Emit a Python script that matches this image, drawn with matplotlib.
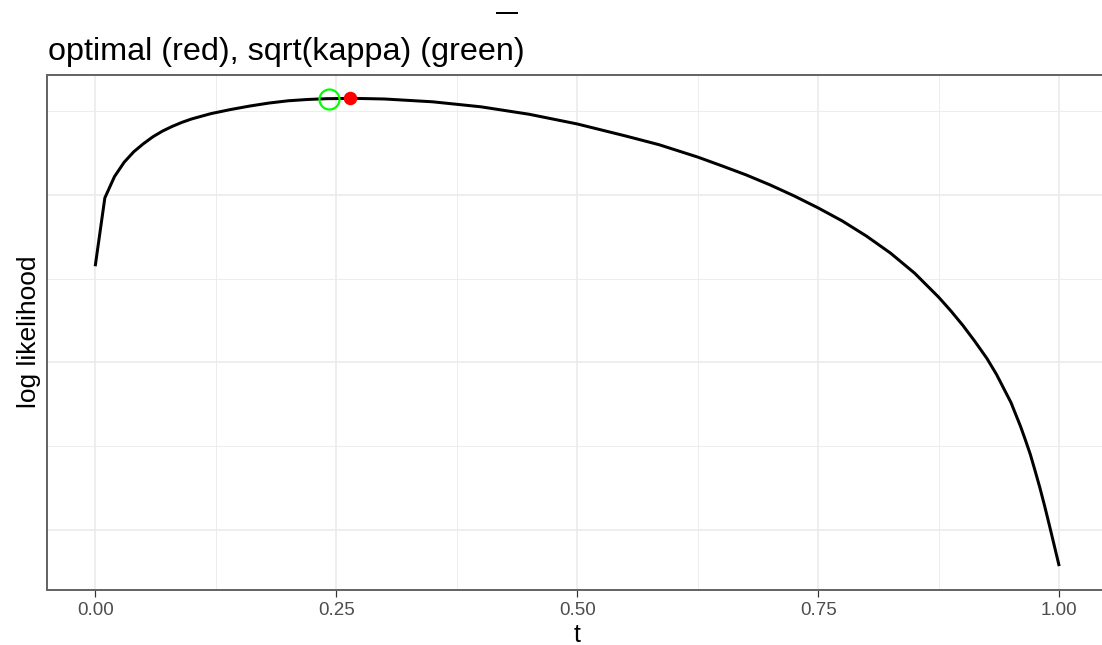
import matplotlib
matplotlib.use("Agg")
import matplotlib.pyplot as plt
from matplotlib.lines import Line2D
from matplotlib.ticker import FixedLocator, NullFormatter

plt.rcParams['font.family'] = ['Liberation Sans', 'DejaVu Sans']

# log likelihood profile over t
t_vals = [0.00, 0.01, 0.02, 0.03, 0.04, 0.05, 0.06, 0.07, 0.08, 0.09,
          0.10, 0.12, 0.14, 0.16, 0.18, 0.20, 0.22, 0.24, 0.2645, 0.28,
          0.30, 0.35, 0.40, 0.45, 0.50, 0.55, 0.585, 0.625, 0.65, 0.675,
          0.70, 0.725, 0.75, 0.775, 0.80, 0.825, 0.85, 0.875, 0.8875, 0.90,
          0.9125, 0.925, 0.935, 0.95, 0.955, 0.96, 0.965, 0.97, 0.975, 0.98,
          0.985, 0.99, 0.995, 1.00]
loglik = [-121.30, -100.90, -94.54, -90.27, -87.13, -84.73, -82.63, -80.93, -79.55, -78.35,
          -77.34, -75.75, -74.55, -73.50, -72.60, -71.92, -71.53, -71.29, -71.20, -71.26,
          -71.38, -72.22, -73.71, -75.93, -78.83, -82.40, -85.03, -88.71, -91.32, -94.01,
          -97.01, -100.30, -103.89, -107.78, -112.28, -117.37, -123.35, -130.54, -134.58, -138.92,
          -143.71, -148.80, -153.59, -161.98, -165.57, -169.16, -173.20, -177.40, -182.34, -187.43,
          -192.96, -198.80, -204.79, -210.78]

t_optimal, ll_optimal = 0.2645, -71.20
t_sqrt_kappa, ll_sqrt_kappa = 0.2427, -71.29

x_breaks = [0.00, 0.25, 0.50, 0.75, 1.00]
x_labels = ["0.00", "0.25", "0.50", "0.75", "1.00"]
x_minor = [0.125, 0.375, 0.625, 0.875]
y_breaks = [-200, -150, -100]
y_minor = [-175, -125, -75]

W, H, DPI = 1102, 645, 100
fig = plt.figure(figsize=(W / DPI, H / DPI), dpi=DPI)
px = 72.0 / DPI  # points per pixel

# panel placement (px)
left, right, top, bottom = 47, 1107.4, 75, 589.5
ax = fig.add_axes([left / W, 1 - bottom / H, (right - left) / W, (bottom - top) / H])

grid_col = '#EBEBEB'
for v in x_breaks:
    ax.axvline(v, color=grid_col, lw=1.6 * px, zorder=0)
for v in x_minor:
    ax.axvline(v, color=grid_col, lw=0.9 * px, zorder=0)
for v in y_breaks:
    ax.axhline(v, color=grid_col, lw=1.6 * px, zorder=0)
for v in y_minor:
    ax.axhline(v, color=grid_col, lw=0.9 * px, zorder=0)

ax.plot(t_vals, loglik, color='black', lw=3.0 * px, solid_joinstyle='round',
        solid_capstyle='butt', zorder=2)
ax.plot([t_optimal], [ll_optimal], 'o', color='#FF0000', markersize=13.5 * px,
        markeredgewidth=0, zorder=3)
ax.plot([t_sqrt_kappa], [ll_sqrt_kappa], 'o', markerfacecolor='none',
        markeredgecolor='#00FF00', markersize=20 * px, markeredgewidth=2.2 * px, zorder=3)

xr = 1.0 - 0.0
ax.set_xlim(0 - 0.05 * xr, 1 + 0.05 * xr)
ymin, ymax = min(loglik), max(loglik)
yr = ymax - ymin
ax.set_ylim(ymin - 0.05 * yr, ymax + 0.05 * yr)

ax.xaxis.set_major_locator(FixedLocator(x_breaks))
ax.set_xticklabels(x_labels)
ax.yaxis.set_major_locator(FixedLocator(y_breaks))
ax.yaxis.set_major_formatter(NullFormatter())
ax.tick_params(axis='y', length=0)
ax.tick_params(axis='x', length=5, width=1.2 * px, color='#333333',
               labelcolor='#4D4D4D', labelsize=13.5, pad=4)

for s in ax.spines.values():
    s.set_color('#666666')
    s.set_linewidth(2.0 * px)

ax.set_xlabel('t', fontsize=18, color='black', labelpad=3)
ax.set_ylabel('log likelihood', fontsize=19, color='black', labelpad=1)

fig.text(48 / W, 1 - 60 / H, 'optimal (red), sqrt(kappa) (green)',
         fontsize=23.3, color='black', ha='left', va='baseline')
fig.add_artist(Line2D([497 / W, 517 / W], [1 - 13 / H, 1 - 13 / H],
                      color='black', lw=2.0 * px))

fig.savefig('out.png', dpi=DPI)
